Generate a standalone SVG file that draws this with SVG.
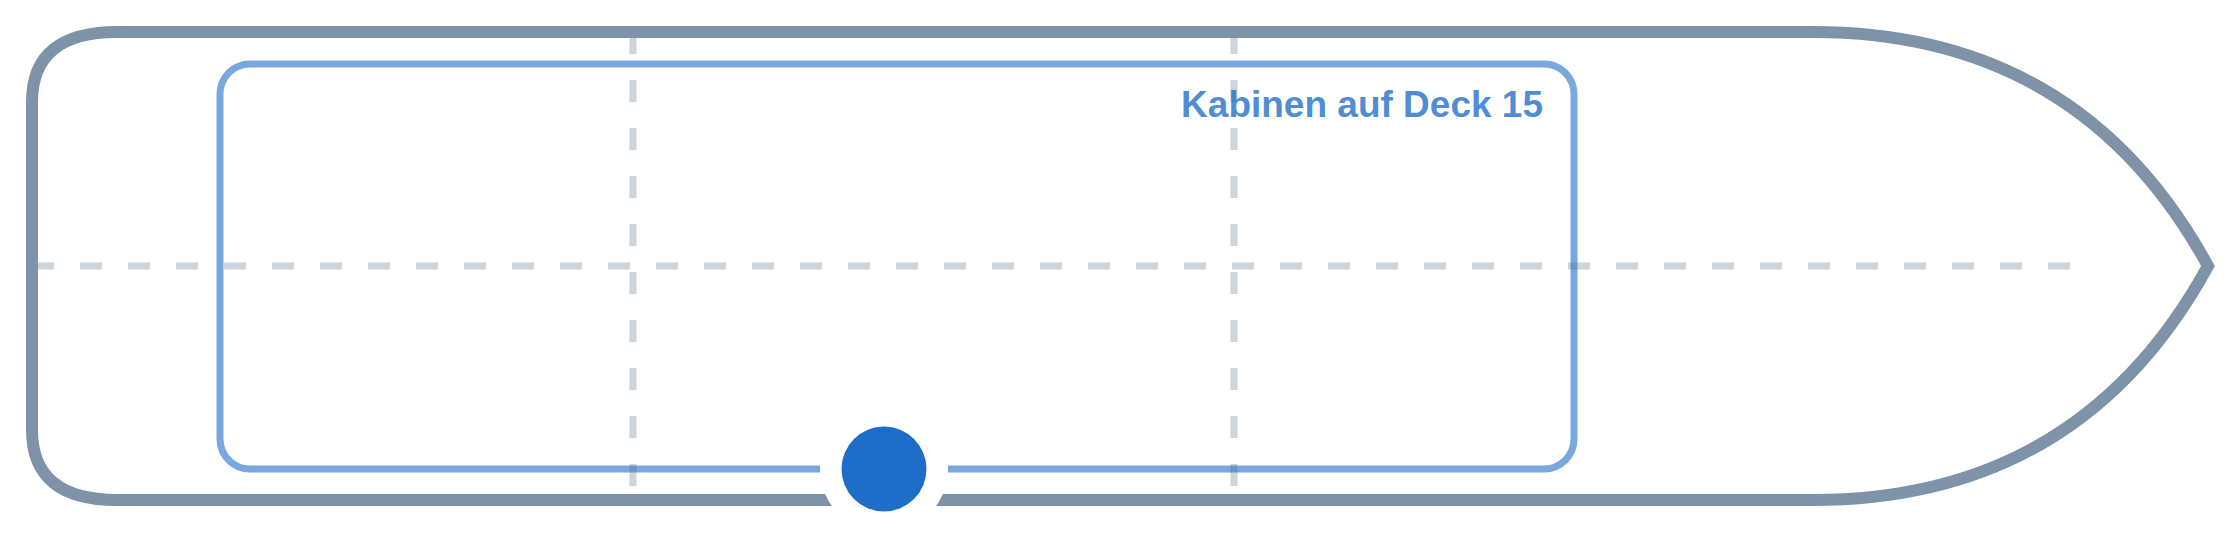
<svg xmlns="http://www.w3.org/2000/svg" width="2240" height="533" viewBox="0 0 2240 533">
  <style>
    .grid { stroke: #7f93a8; stroke-opacity: 0.4; stroke-width: 7; stroke-dasharray: 22 26; fill: none; }
    .hull { stroke: #7f93a8; stroke-width: 12; fill: none; stroke-linejoin: miter; }
    .zone { stroke: #1e6ec9; stroke-opacity: 0.6; stroke-width: 7; fill: none; }
    .label { font-family: "Liberation Sans", Arial, sans-serif; font-weight: bold; font-size: 37px; fill: #1e6ec9; fill-opacity: 0.8; }
  </style>
  <rect width="2240" height="533" fill="#ffffff"/>
  <g id="connectors">
    <line class="grid" x1="32" y1="266" x2="2072" y2="266"/>
    <line class="grid" x1="633" y1="32" x2="633" y2="500"/>
    <line class="grid" x1="1234" y1="32" x2="1234" y2="500"/>
  </g>
  <g id="hull">
    <path class="hull" d="M 117 32 L 1813 32 Q 2080 32 2208 266 Q 2080 500 1813 500 L 117 500 Q 32 500 32 430 L 32 102 Q 32 32 117 32 Z"/>
  </g>
  <g id="deck15">
    <rect class="zone" x="220" y="64" width="1354" height="405" rx="30" ry="30"/>
    <text class="label" x="1543" y="117" text-anchor="end">Kabinen auf Deck 15</text>
  </g>
  <g id="marker">
    <circle cx="884" cy="469" r="64" fill="#ffffff"/>
    <circle cx="884" cy="469" r="42.5" fill="#1e6ec9"/>
  </g>
</svg>
